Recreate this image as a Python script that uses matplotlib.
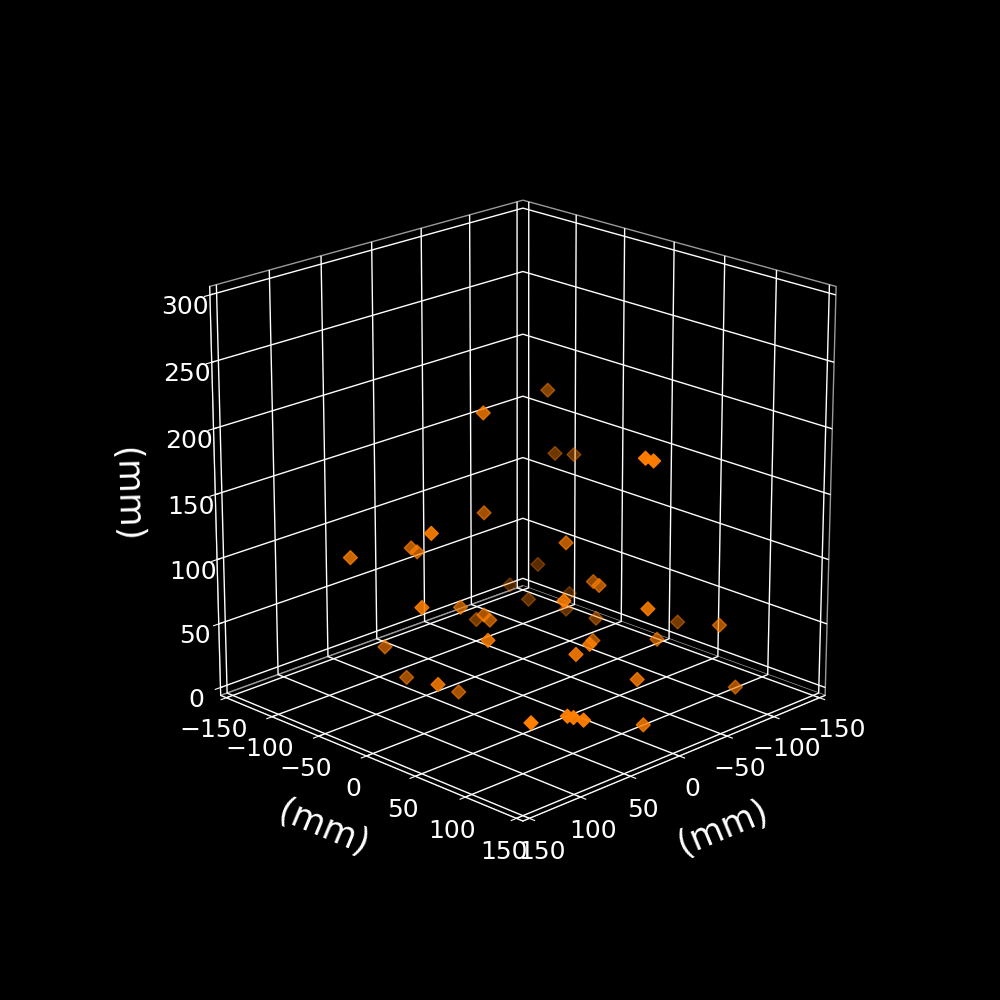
import numpy as np
import matplotlib
matplotlib.use("Agg")
import matplotlib.pyplot as plt

# marker positions in mm
x = [-89, 20, -108, -118, -10, -14, -5, -22, 96, 112, 57, 54, -99, -94, -62,
     -39, -126, -79, 30, -99, 101, 32, -12, 20, 17, -26, -89, -132, -101, 68,
     -36, 17, -69, 71, 34, 60, -7, 103, 44, -105, 97, 69, 66, 61, 0]
y = [-63, -20, -74, -64, 111, 115, -45, 22, 5, -62, -57, -54, -83, -108, 11,
     39, -76, -73, 71, -53, 0, -32, 113, -20, -17, -75, -12, 31, 101, 33,
     36, 84, 69, -71, 87, -60, 108, 18, -22, 114, 105, 113, 116, 121, 121]
z = [193, 212, 136, 135, 203, 201, 123, 113, 147, 115, 109, 106, 47, 25, 69,
     80, 18, 27, 96, 19, 91, 63, 90, 57, 53, 25, 26, 23, 49, 66,
     37, 63, 38, 32, 61, 8, 36, 38, 3, 3, 33, 32, 31, 29, 7]

ticks_xy = np.arange(-150, 151, 50)
ticks_z = np.arange(0, 301, 50)

plt.style.use("dark_background")
plt.rcParams["axes3d.automargin"] = True
plt.rcParams["grid.linewidth"] = 1.0

fig = plt.figure(figsize=(10, 10), dpi=100)
ax = fig.add_subplot(111, projection="3d")
ax.scatter(x, y, z, marker="D", s=50, c="#ff7f00")

ax.view_init(elev=20, azim=45)
ax.set_xlim(-150, 150)
ax.set_ylim(-150, 150)
ax.set_zlim(0, 300)
ax.set_box_aspect((1, 1, 1), zoom=0.95)
ax.set_xticks(ticks_xy)
ax.set_yticks(ticks_xy)
ax.set_zticks(ticks_z)
ax.tick_params(labelsize=18)

for axis in (ax.xaxis, ax.yaxis, ax.zaxis):
    axis.set_pane_color((0, 0, 0, 1))
    axis.pane.set_edgecolor("0.6")
    axis.set_rotate_label(True)

ax.set_xlabel("(mm)", fontsize=25, labelpad=18)
ax.set_ylabel("(mm)", fontsize=25, labelpad=18)
ax.set_zlabel("(mm)", fontsize=25, labelpad=21)

fig.savefig("out.png", dpi=100)
